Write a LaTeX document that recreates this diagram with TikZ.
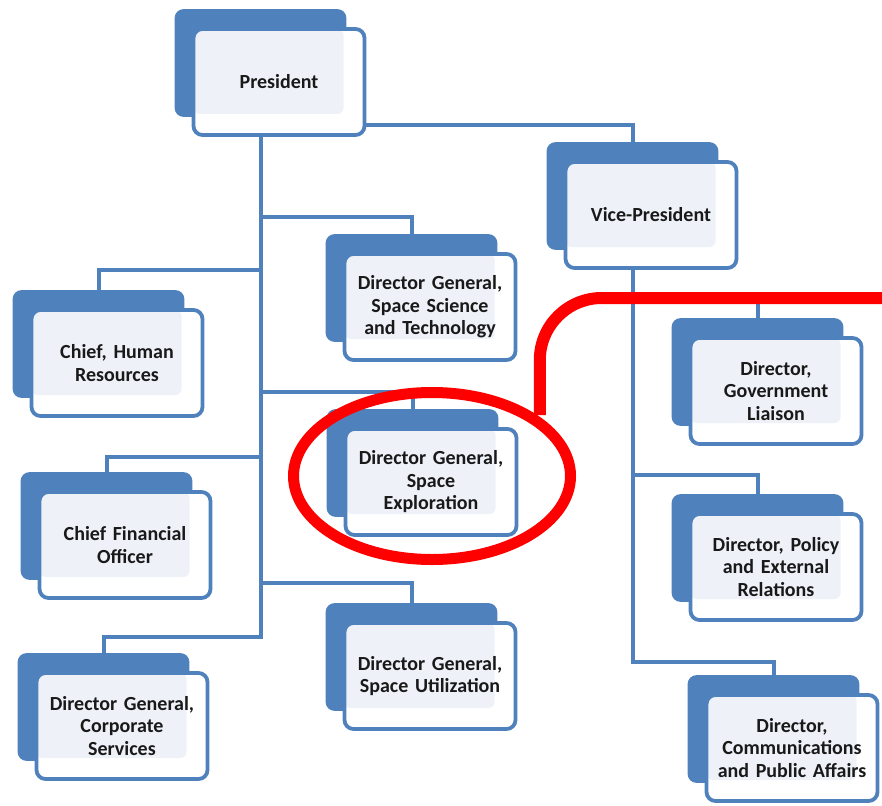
\documentclass[tikz,border=0pt]{standalone}
\usepackage{fontspec}
\setmainfont{Carlito}
\usepackage{xcolor}
\usepackage{tikz}
\usetikzlibrary{shapes,arrows}
\usetikzlibrary{positioning,backgrounds}

\definecolor{orgblue}{RGB}{79,129,189}
\definecolor{cardfill}{RGB}{238,242,248}
\definecolor{markred}{RGB}{255,0,0}

\begin{document}
\begin{tikzpicture}[x=1pt, y=1pt,
			block/.style={
					rectangle,
					draw=orgblue,
					line width=3.8pt,
					fill=white,
					rounded corners=9pt,
					minimum width=171pt,
					minimum height=106pt,
					inner sep=2pt,
					text width=166pt,
					align=center,
					text=black!90,
					font=\fontsize{20}{22.5}\selectfont\bfseries,
					path picture={\fill[cardfill, rounded corners=6pt] (path picture bounding box.north west) rectangle ([shift={(-21pt,21pt)}]path picture bounding box.south east);}
				},
			line/.style={draw=orgblue, line width=4pt},
			focusring/.style={ellipse, draw=markred, line width=11pt, minimum width=277pt, minimum height=167pt},
			callout/.style={draw=markred, line width=12pt, rounded corners=62pt}
		]
		\useasboundingbox (0,0) rectangle (882,-805);
		% Place nodes
		\node [block] (pres) at (279,-82) {President};
		\node [block] (vp) at (651,-215) {Vice-President};
		\node [block] (dgsst) at (430,-307) {Director General,\\ Space Science\\ and Technology};
		\node [block] (hr) at (117,-363) {Chief, Human\\ Resources};
		\node [block] (dgse) at (431,-482) {Director General,\\ Space\\ Exploration};
		\node [block] (cfo) at (125,-545) {Chief Financial\\ Officer};
		\node [block] (dgsu) at (430,-676) {Director General,\\ Space Utilization};
		\node [block] (dgcs) at (122,-726) {Director General,\\ Corporate\\ Services};
		\node [block] (dgl) at (776,-391) {Director,\\ Government\\ Liaison};
		\node [block] (dp) at (776,-567) {Director, Policy\\ and External\\ Relations};
		\node [block] (dc) at (792,-748) {Director,\\ Communications\\ and Public Affairs};
		% Shadows and entry points
		\begin{scope}[on background layer]
			\foreach \n in {pres,vp,dgsst,hr,dgse,cfo,dgsu,dgcs,dgl,dp,dc} {
				\fill [orgblue, rounded corners=9pt] ([shift={(-17pt,18pt)}]\n.north west) rectangle ([shift={(-20pt,20pt)}]\n.south east);
				\coordinate (\n-in) at ([shift={(-18pt,18pt)}]\n.north);
			}
		\end{scope}
		\coordinate (ptrunk) at ([xshift=-18pt]pres.south);
		\coordinate (vtrunk) at ([xshift=-18pt]vp.south);
		% Draw edges
		\path [line] (pres.east |- 0,-125) -| (vp-in);
		\path [line] (ptrunk) |- (dgcs-in |- 0,-637) -- (dgcs-in);
		\path [line] (ptrunk |- 0,-217) -| (dgsst-in);
		\path [line] (ptrunk |- 0,-270) -| (hr-in);
		\path [line] (ptrunk |- 0,-392) -| (dgse-in);
		\path [line] (ptrunk |- 0,-457) -| (cfo-in);
		\path [line] (ptrunk |- 0,-583) -| (dgsu-in);
		\path [line] (vtrunk) |- (dc-in |- 0,-662) -- (dc-in);
		\path [line] (vtrunk |- 0,-297) -| (dgl-in);
		\path [line] (vtrunk |- 0,-475) -| (dp-in);
		% Highlight
		\node [focusring] (focus) at (432,-476) {};
		\coordinate (calloutstart) at ([shift={(6pt,-2pt)}]focus.north east);
		\coordinate (calloutend) at (882,-298);
		\path [callout] (calloutstart) |- (calloutend);
	\end{tikzpicture}
\end{document}
